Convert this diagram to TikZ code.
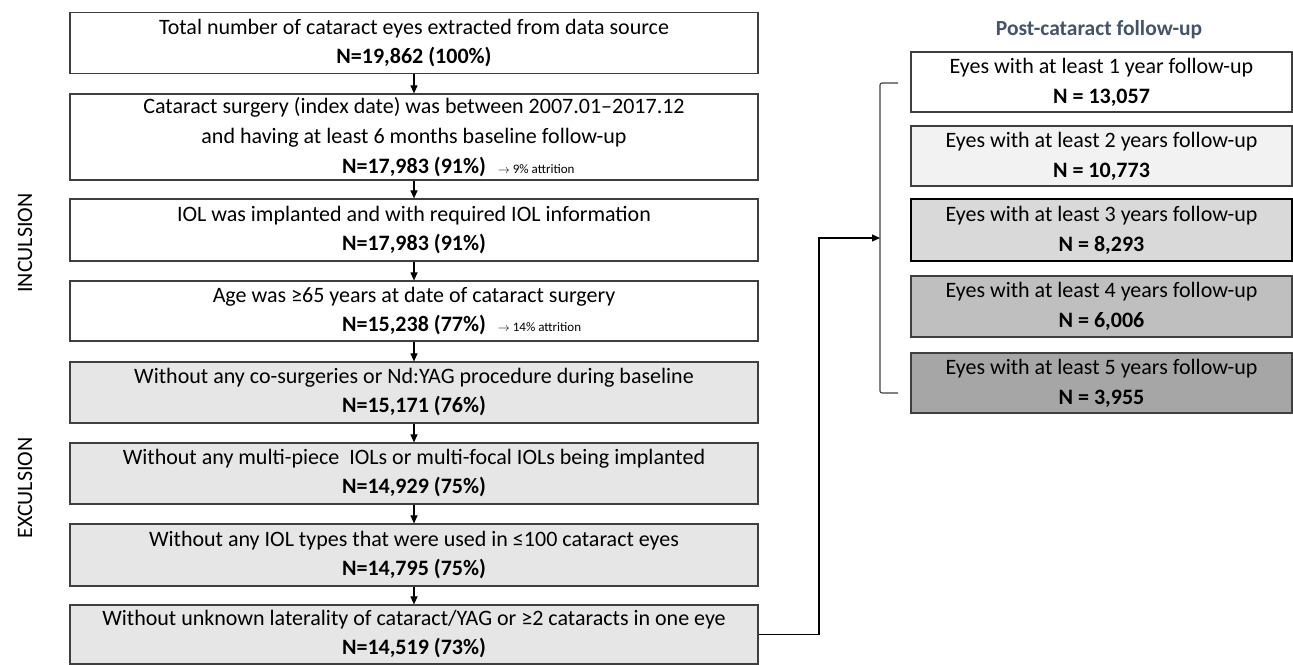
\documentclass[tikz,border=0pt]{standalone}
\usepackage{fontspec}
\setmainfont{Carlito}
\usetikzlibrary{arrows.meta}
\definecolor{bordc}{HTML}{3F3F3F}
\definecolor{lgray}{HTML}{E7E6E6}
\definecolor{rg2}{HTML}{F2F2F2}
\definecolor{rg3}{HTML}{D9D9D9}
\definecolor{rg4}{HTML}{BFBFBF}
\definecolor{rg5}{HTML}{A6A6A6}
\definecolor{titlec}{HTML}{44546A}
\newcommand{\attrfont}{\fontsize{13}{13}\selectfont}
\begin{document}
\begin{tikzpicture}[x=1pt,y=-1pt,
  basebox/.style={draw=bordc, line width=1.2pt, inner sep=0pt, align=center,
    font=\fontsize{22}{29}\selectfont},
  lbox/.style={basebox, minimum width=688pt},
  rbox/.style={basebox, minimum width=381pt, minimum height=60pt, font=\fontsize{22}{30}\selectfont},
  arr/.style={draw=black, line width=1.1pt, -{Triangle[length=8pt,width=7pt]}},
  conn/.style={draw=bordc, line width=1.1pt},
  side/.style={rotate=90, font=\fontsize{22}{22}\selectfont}]
\useasboundingbox (0,0) rectangle (1293,664);

% left column
\node[lbox, minimum height=61pt] (b1) at (414,43.3)
  {Total number of cataract eyes extracted from data source\\\textbf{N=19,862 (100\%)}};
\node[lbox, minimum height=86pt, font=\fontsize{22}{30}\selectfont] (b2) at (414,137)
  {Cataract surgery (index date) was between 2007.01–2017.12\\and having at least 6 months baseline follow-up\\\textbf{N=17,983 (91\%)}\rlap{\attrfont\hspace{12pt}$\rightarrow$ 9\% attrition}};
\node[lbox, minimum height=62pt] (b3) at (414,230)
  {IOL was implanted and with required IOL information\\\textbf{N=17,983 (91\%)}};
\node[lbox, minimum height=60pt] (b4) at (414,311)
  {Age was ≥65 years at date of cataract surgery\\\textbf{N=15,238 (77\%)}\rlap{\attrfont\hspace{12pt}$\rightarrow$ 14\% attrition}};
\node[lbox, fill=lgray, minimum height=61pt] (b5) at (414,392.5)
  {Without any co-surgeries or Nd:YAG procedure during baseline\\\textbf{N=15,171 (76\%)}};
\node[lbox, fill=lgray, minimum height=61pt] (b6) at (414,473.5)
  {Without any multi-piece\ \ IOLs or multi-focal IOLs being implanted\\\textbf{N=14,929 (75\%)}};
\node[lbox, fill=lgray, minimum height=62pt] (b7) at (414,555)
  {Without any IOL types that were used in ≤100 cataract eyes\\\textbf{N=14,795 (75\%)}};
\node[lbox, fill=lgray, minimum height=59pt] (b8) at (414,634.5)
  {Without unknown laterality of cataract/YAG or ≥2 cataracts in one eye\\\textbf{N=14,519 (73\%)}};

\foreach \a/\b in {b1/b2,b2/b3,b3/b4,b4/b5,b5/b6,b6/b7,b7/b8}
  \draw[arr] (\a.south) -- (\b.north);

% side labels
\node[side] (inc) at (25,243) {INCULSION};
\node[side] (exc) at (25,488) {EXCULSION};

% right column
\node[font=\bfseries\fontsize{21.5}{21.5}\selectfont, text=titlec] (title) at (1099,30) {Post-cataract follow-up};
\node[rbox, fill=white] (r1) at (1101.5,82)
  {Eyes with at least 1 year follow-up\\\textbf{N = 13,057}};
\node[rbox, fill=rg2] (r2) at (1101.5,156)
  {Eyes with at least 2 years follow-up\\\textbf{N = 10,773}};
\node[rbox, fill=rg3, draw=black, line width=2.4pt, minimum height=62pt] (r3) at (1101.5,230)
  {Eyes with at least 3 years follow-up\\\textbf{N = 8,293}};
\node[rbox, fill=rg4, minimum height=61pt] (r4) at (1101.5,306.5)
  {Eyes with at least 4 years follow-up\\\textbf{N = 6,006}};
\node[rbox, fill=rg5] (r5) at (1101.5,383)
  {Eyes with at least 5 years follow-up\\\textbf{N = 3,955}};

% bracket
\coordinate (bt) at (898,83);
\coordinate (bb) at (898,393);
\coordinate (brk) at (880,238);
\draw[conn, rounded corners=2pt] (bt) -- (880,83) -- (880,393) -- (bb);

% connector from last box to bracket
\coordinate (jx) at (819,238);
\draw[arr] (b8.east) -| (jx) -- (brk);
\end{tikzpicture}
\end{document}
